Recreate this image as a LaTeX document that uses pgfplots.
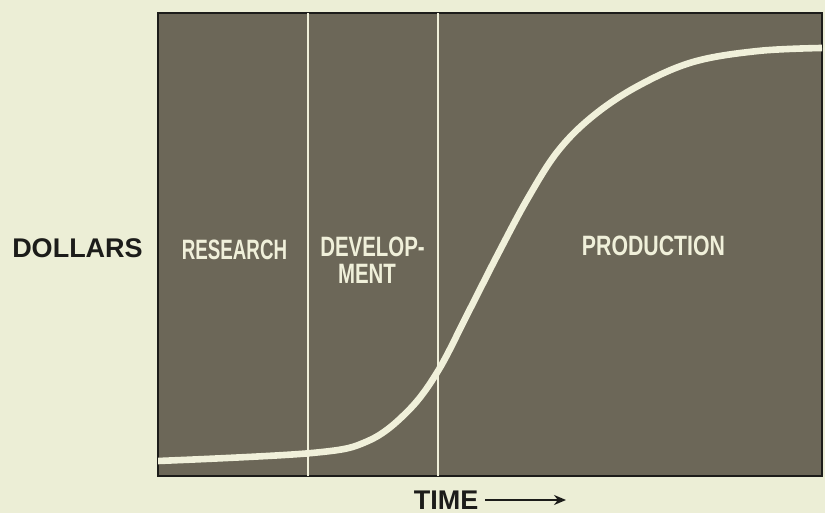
\documentclass[border=0pt]{standalone}
\usepackage{fontspec}
\setmainfont{Liberation Sans}
\usepackage{pgfplots}
\pgfplotsset{compat=1.18}
\usetikzlibrary{arrows.meta}
\definecolor{paper}{RGB}{236,238,214}
\definecolor{boxfill}{RGB}{108,103,88}
\definecolor{cream}{RGB}{240,240,218}
\definecolor{ink}{RGB}{28,28,26}
\begin{document}
\begin{tikzpicture}[x=1pt,y=1pt]
\fill[paper] (0,0) rectangle (412.5,256.5);
\begin{axis}[
  at={(79pt,18.5pt)}, anchor=south west,
  scale only axis, width=332pt, height=231.5pt,
  xmin=0, xmax=664, ymin=0, ymax=463,
  xtick=\empty, ytick=\empty,
  axis background/.style={fill=boxfill},
  axis line style={draw=ink, line width=0.9pt},
  clip=true,
]
\addplot[cream, line width=0.9pt] coordinates {(150,0) (150,463)};
\addplot[cream, line width=0.9pt] coordinates {(280,0) (280,463)};
\addplot[cream, line width=3.3pt, smooth, tension=0.6] coordinates {
(0,15) (154,23) (210,35) (250,65) (280,105) (310,163) (340,222) (370,278)
(400,325) (435,360) (480,390) (535,414) (600,425) (664,428)};
\end{axis}
\node[inner sep=0, text=ink, font=\fontsize{13.5}{14}\selectfont\bfseries] at (38.75,132.5) {DOLLARS};
\node[inner sep=0, text=cream, xscale=0.67, font=\fontsize{14}{15}\selectfont\bfseries] at (117.25,131.5) {RESEARCH};
\node[inner sep=0, text=cream, xscale=0.73, font=\fontsize{14}{15}\selectfont\bfseries] at (186.25,133) {DEVELOP-};
\node[inner sep=0, text=cream, xscale=0.73, font=\fontsize{14}{15}\selectfont\bfseries] at (183.5,119.5) {MENT};
\node[inner sep=0, text=cream, xscale=0.76, font=\fontsize{14}{15}\selectfont\bfseries] at (326.75,133.5) {PRODUCTION};
\node[inner sep=0, text=ink, font=\fontsize{13.5}{14}\selectfont\bfseries] at (223,6.5) {TIME};
\draw[ink, line width=1.1pt, -{Stealth[length=6pt,width=5pt]}] (242.5,6.5) -- (283,6.5);
\end{tikzpicture}
\end{document}
